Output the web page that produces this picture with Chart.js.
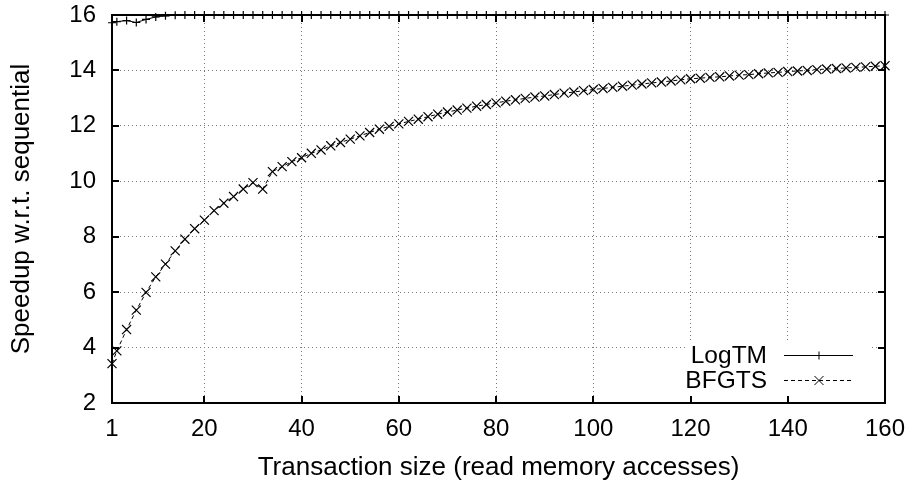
<!DOCTYPE html>
<html>
<head>
<meta charset="utf-8">
<script src="https://cdn.jsdelivr.net/npm/chart.js@4/dist/chart.umd.min.js"></script>
<style>
  html, body { margin: 0; padding: 0; background: #fff; }
  #wrap { width: 912px; height: 485px; }
</style>
</head>
<body>
<div id="wrap"><canvas id="c" width="912" height="485"></canvas></div>
<script>
// Transaction sizes (read memory accesses) at which speedup was measured
const sizes = [1, 2, 4, 6, 8, 10, 12, 14, 16, 18, 20, 22, 24, 26, 28, 30, 32, 34, 36, 38,
  40, 42, 44, 46, 48, 50, 52, 54, 56, 58, 60, 62, 64, 66, 68, 70, 72, 74, 76, 78,
  80, 82, 84, 86, 88, 90, 92, 94, 96, 98, 100, 102, 104, 106, 108, 110, 112, 114, 116, 118,
  120, 122, 124, 126, 128, 130, 132, 134, 136, 138, 140, 142, 144, 146, 148, 150, 152, 154, 156, 158, 160];

// Speedup w.r.t. sequential execution
const logtm = [15.72, 15.76, 15.80, 15.73, 15.84, 15.93, 15.97, 15.99, 16, 16, 16, 16, 16, 16, 16, 16, 16, 16, 16, 16,
  16, 16, 16, 16, 16, 16, 16, 16, 16, 16, 16, 16, 16, 16, 16, 16, 16, 16, 16, 16,
  16, 16, 16, 16, 16, 16, 16, 16, 16, 16, 16, 16, 16, 16, 16, 16, 16, 16, 16, 16,
  16, 16, 16, 16, 16, 16, 16, 16, 16, 16, 16, 16, 16, 16, 16, 16, 16, 16, 16, 16, 16];

const bfgts = [3.42, 3.88, 4.65, 5.35, 5.99, 6.55, 7.01, 7.49, 7.91, 8.29, 8.60, 8.94, 9.21, 9.45, 9.72, 9.95, 9.72, 10.35, 10.53, 10.71,
  10.85, 11.01, 11.13, 11.28, 11.40, 11.52, 11.64, 11.76, 11.88, 11.98, 12.07, 12.16, 12.24, 12.33, 12.42, 12.50, 12.57, 12.64, 12.71, 12.77,
  12.83, 12.89, 12.94, 12.99, 13.04, 13.08, 13.13, 13.18, 13.22, 13.27, 13.31, 13.35, 13.39, 13.43, 13.47, 13.51, 13.55, 13.58, 13.62, 13.66,
  13.70, 13.72, 13.75, 13.77, 13.80, 13.83, 13.85, 13.88, 13.91, 13.93, 13.96, 13.98, 14.00, 14.03, 14.05, 14.07, 14.09, 14.11, 14.13, 14.15, 14.17];

const xTickValues = [1, 20, 40, 60, 80, 100, 120, 140, 160];
const yTickValues = [2, 4, 6, 8, 10, 12, 14, 16];

const FONT = '"Liberation Sans", Arial, Helvetica, sans-serif';
const TICK_SIZE = 24;
const TITLE_SIZE = 26;
const KEY_SIZE = 24.5;

// Plot frame with inward tick marks on all four sides
const framePlugin = {
  id: 'frame',
  afterDraw(chart) {
    const ctx = chart.ctx;
    const a = chart.chartArea;
    const xs = chart.scales.x, ys = chart.scales.y;
    const tl = 7;
    ctx.save();
    ctx.strokeStyle = '#000';
    ctx.lineWidth = 2;
    ctx.beginPath();
    xTickValues.forEach(v => {
      const px = Math.round(xs.getPixelForValue(v));
      ctx.moveTo(px, a.bottom); ctx.lineTo(px, a.bottom - tl);
      ctx.moveTo(px, a.top); ctx.lineTo(px, a.top + tl);
    });
    yTickValues.forEach(v => {
      const py = Math.round(ys.getPixelForValue(v));
      ctx.moveTo(a.left, py); ctx.lineTo(a.left + tl, py);
      ctx.moveTo(a.right, py); ctx.lineTo(a.right - tl, py);
    });
    ctx.stroke();
    ctx.strokeRect(a.left, a.top, a.right - a.left, a.bottom - a.top);
    ctx.restore();
  }
};

// Key in the lower right corner: label, then a line sample with its marker
const keyPlugin = {
  id: 'key',
  afterDatasetsDraw(chart) {
    const ctx = chart.ctx;
    const a = chart.chartArea;
    ctx.save();
    ctx.fillStyle = '#fff';
    ctx.fillRect(a.right - 197, a.bottom - 60, 182, 53);
    ctx.font = KEY_SIZE + 'px ' + FONT;
    ctx.textAlign = 'right';
    ctx.textBaseline = 'middle';
    ctx.fillStyle = '#000';
    const rows = [a.bottom - 48, a.bottom - 23];
    chart.data.datasets.forEach((ds, i) => {
      const y = rows[i];
      ctx.fillText(ds.label, a.right - 118, y + 1);
      ctx.strokeStyle = '#000';
      ctx.lineWidth = 1;
      ctx.setLineDash(ds.borderDash || []);
      ctx.beginPath();
      ctx.moveTo(a.right - 101, y + 0.5);
      ctx.lineTo(a.right - 32, y + 0.5);
      ctx.stroke();
      ctx.setLineDash([]);
      Chart.helpers.drawPoint(ctx, {
        pointStyle: ds.pointStyle,
        radius: ds.pointRadius,
        borderWidth: ds.pointBorderWidth,
        rotation: 0
      }, a.right - 66, y + 0.5);
    });
    ctx.restore();
  }
};

const commonDs = {
  borderColor: '#000',
  backgroundColor: '#000',
  pointBorderColor: '#000',
  borderWidth: 1,
  pointBorderWidth: 1.2,
  fill: false,
  tension: 0,
  clip: false
};

new Chart(document.getElementById('c'), {
  type: 'line',
  data: {
    datasets: [
      Object.assign({}, commonDs, {
        label: 'LogTM',
        data: sizes.map((s, i) => ({ x: s, y: logtm[i] })),
        pointStyle: 'cross',
        pointRadius: 4
      }),
      Object.assign({}, commonDs, {
        label: 'BFGTS',
        data: sizes.map((s, i) => ({ x: s, y: bfgts[i] })),
        borderDash: [4, 3],
        pointStyle: 'crossRot',
        pointRadius: 6.4
      })
    ]
  },
  options: {
    responsive: false,
    animation: false,
    devicePixelRatio: 1,
    layout: { padding: { top: 15, right: 27, left: 0, bottom: 0 } },
    plugins: { legend: { display: false }, tooltip: { enabled: false } },
    scales: {
      x: {
        type: 'linear',
        min: 1,
        max: 160,
        afterBuildTicks: s => { s.ticks = xTickValues.map(v => ({ value: v })); },
        afterFit: s => { s.height = 82; s.paddingLeft = 0; s.paddingRight = 0; },
        ticks: {
          autoSkip: false,
          maxRotation: 0,
          padding: 12,
          color: '#000',
          font: { family: FONT, size: TICK_SIZE },
          callback: v => String(v)
        },
        grid: { color: '#777', lineWidth: 1, drawTicks: false },
        border: { display: false, dash: [1, 3] },
        title: {
          display: true,
          text: 'Transaction size (read memory accesses)',
          color: '#000',
          font: { family: FONT, size: TITLE_SIZE },
          padding: { top: 0, bottom: 2 }
        }
      },
      y: {
        type: 'linear',
        min: 2,
        max: 16,
        afterBuildTicks: s => { s.ticks = yTickValues.map(v => ({ value: v })); },
        afterFit: s => { s.width = 112; s.paddingTop = 0; s.paddingBottom = 0; },
        ticks: {
          padding: 16,
          color: '#000',
          font: { family: FONT, size: TICK_SIZE },
          callback: v => String(v)
        },
        grid: { color: '#777', lineWidth: 1, drawTicks: false },
        border: { display: false, dash: [1, 3] },
        title: {
          display: true,
          text: 'Speedup w.r.t. sequential',
          color: '#000',
          font: { family: FONT, size: TITLE_SIZE },
          padding: { top: 6, bottom: 0 }
        }
      }
    }
  },
  plugins: [keyPlugin, framePlugin]
});
</script>
</body>
</html>
